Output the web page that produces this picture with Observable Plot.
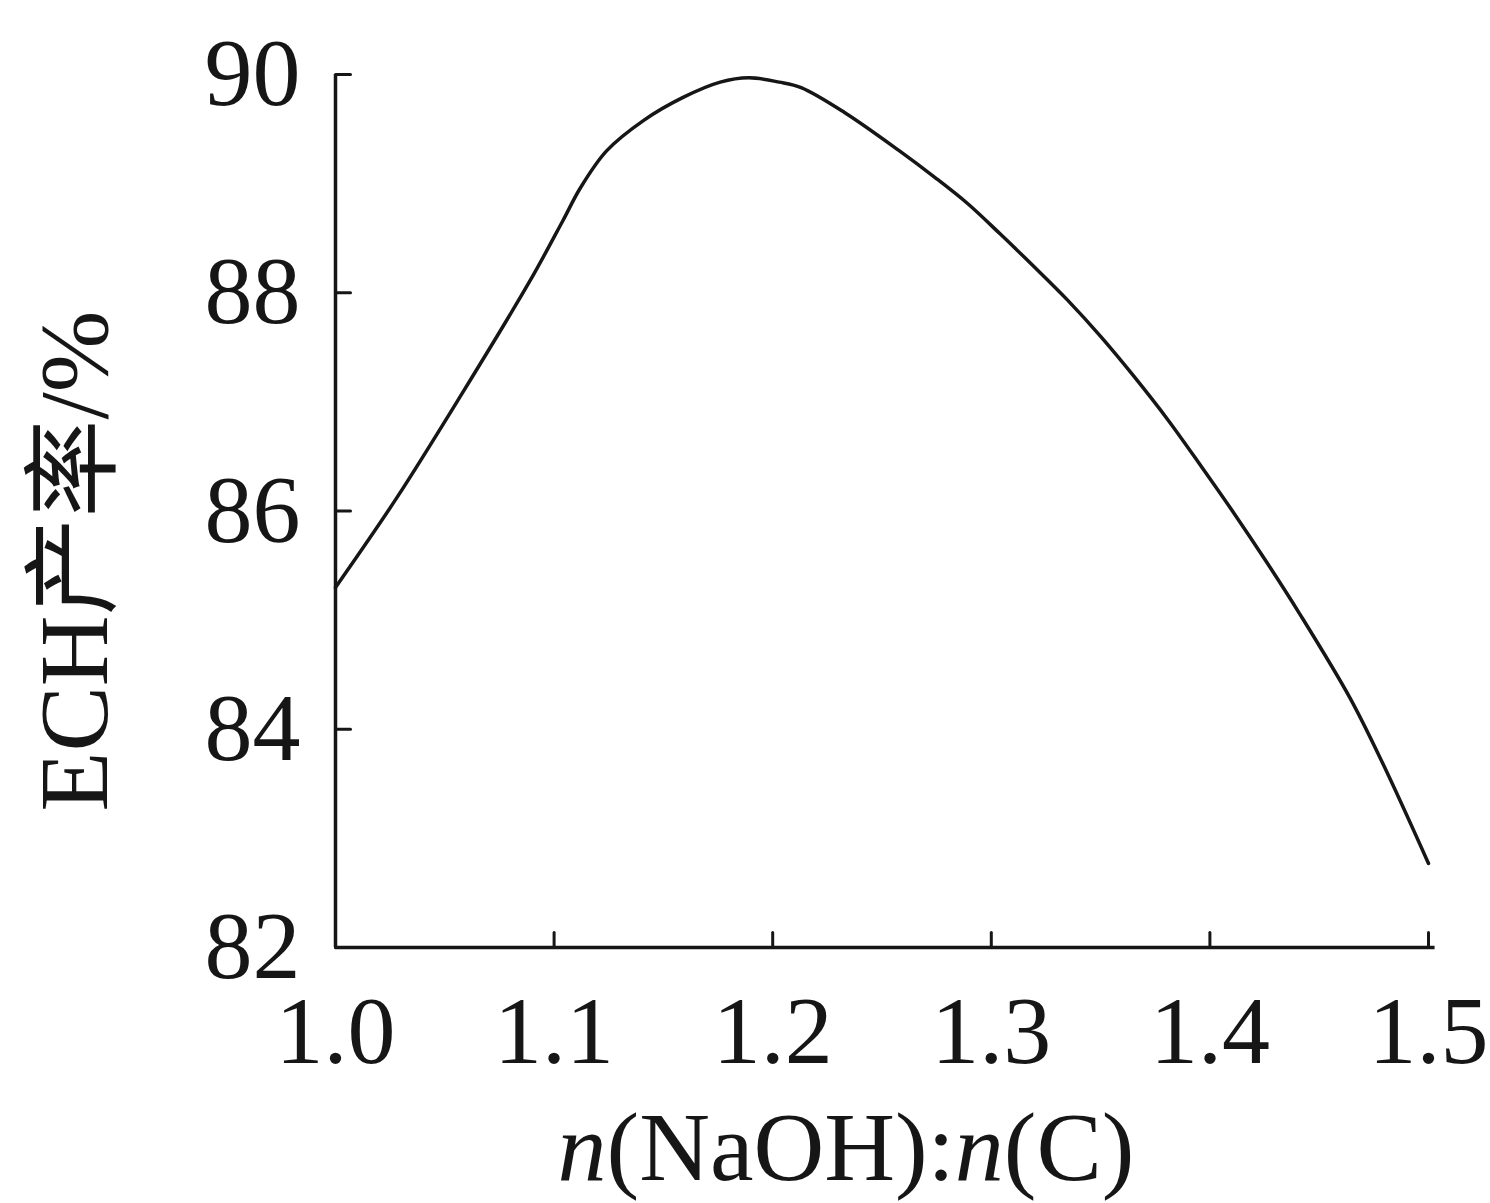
<!DOCTYPE html>
<html><head><meta charset="utf-8">
<script src="https://cdn.jsdelivr.net/npm/d3@7"></script>
<script src="https://cdn.jsdelivr.net/npm/@observablehq/plot@0.6"></script>
<style>body{margin:0;background:#fff;}</style>
</head><body><div id="chart"></div>
<script>
// Traced curve: n(NaOH):n(C) vs ECH yield (%)
const ratio = [1.000, 1.028, 1.058, 1.089, 1.104, 1.112, 1.124, 1.141, 1.159, 1.176, 1.189, 1.203, 1.213, 1.233, 1.258, 1.274, 1.289, 1.304, 1.319, 1.335, 1.350, 1.365, 1.381, 1.396, 1.411, 1.426, 1.441, 1.464, 1.479, 1.500];
const yieldPct = [85.30, 86.12, 87.08, 88.11, 88.66, 88.96, 89.30, 89.58, 89.79, 89.93, 89.97, 89.93, 89.88, 89.65, 89.30, 89.06, 88.82, 88.54, 88.25, 87.93, 87.60, 87.24, 86.83, 86.41, 85.98, 85.53, 85.06, 84.29, 83.69, 82.77];
const xTicks = [1.0, 1.1, 1.2, 1.3, 1.4, 1.5];
const yTicks = [82, 84, 86, 88, 90];
const xLabel = "n(NaOH):n(C)";
const yLabel = "ECH产率/%";

const data = ratio.map((x, i) => ({x, y: yieldPct[i]}));
const ink = "#161616";
const tickShape = {draw(context, l) { context.moveTo(0, 0); context.lineTo(0, -l); }};

const chart = Plot.plot({
  width: 1490, height: 1203,
  marginLeft: 335, marginRight: 62, marginTop: 74, marginBottom: 256,
  style: {fontFamily: "'Liberation Serif', 'Noto Sans CJK SC', serif", background: "#fff", color: ink},
  x: {domain: [1.0, 1.5]},
  y: {domain: [82, 90]},
  marks: [
    Plot.axisX({ticks: xTicks, tickSize: 0, tickPadding: 47, tickFormat: d3.format(".1f"), fontSize: 96, label: null}),
    Plot.axisY({ticks: yTicks, tickSize: 0, tickPadding: 35, tickFormat: d3.format("d"), fontSize: 96, label: null}),
    // inward ticks
    Plot.vector(xTicks, {x: d => d, y: 82, length: 15, rotate: 0, anchor: "start", shape: tickShape, stroke: ink, strokeWidth: 3}),
    Plot.vector(yTicks, {x: 1.0, y: d => d, length: 15, rotate: 90, anchor: "start", shape: tickShape, stroke: ink, strokeWidth: 3}),
    Plot.ruleX([1.0], {strokeWidth: 3.5, stroke: ink}),
    Plot.ruleY([82], {x1: 1.0, x2: 1.503, strokeWidth: 3.5, stroke: ink}),
    Plot.line(data, {x: "x", y: "y", curve: "catmull-rom", strokeWidth: 3.5, stroke: ink}),
    Plot.text([xLabel], {text: d => d, frameAnchor: "bottom", textAnchor: "middle", lineAnchor: "middle", dx: -36, dy: 201, fontSize: 98, fill: ink}),
    Plot.text([yLabel], {text: d => d, frameAnchor: "left", textAnchor: "middle", lineAnchor: "middle", rotate: -90, dx: -260, dy: 50, fontSize: 98, fill: ink})
  ]
});

// italicize the variable n in the x label
chart.querySelectorAll("text").forEach(t => {
  if (t.textContent === xLabel) {
    t.textContent = "";
    const parts = [["n", true], ["(NaOH):", false], ["n", true], ["(C)", false]];
    parts.forEach(([s, it]) => {
      const ts = document.createElementNS("http://www.w3.org/2000/svg", "tspan");
      ts.textContent = s;
      if (it) ts.setAttribute("font-style", "italic");
      t.appendChild(ts);
    });
  }
});
document.getElementById("chart").appendChild(chart);
</script>
</body></html>
